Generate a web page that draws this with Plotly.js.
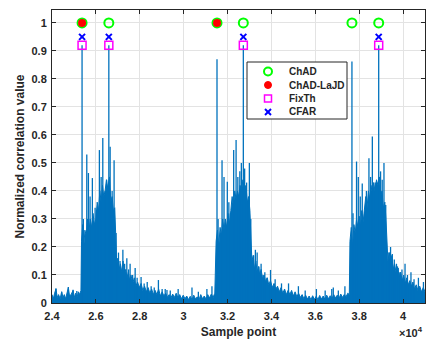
<!DOCTYPE html>
<html>
<head>
<meta charset="utf-8">
<script src="https://cdn.plot.ly/plotly-3.0.1.min.js"></script>
<style>html,body{margin:0;padding:0;background:#fff;}#chart{width:426px;height:342px;}</style>
</head>
<body>
<div id="chart"></div>
<script>
// ---- data ----
// Dense body of the correlation curve (sample index, value)
var bodyX = [24000,24060,24120,24180,24240,24300,24370,24440,24500,24560,24620,24680,24745,24800,24870,24960,25020,25080,25140,25200,25260,25320,
25345,25400,25450,25500,25560,25620,25680,25740,25800,25870,25930,26000,26060,26120,26180,26240,26300,26360,26420,26480,26540,26620,26680,26740,26800,26860,26900,26950,27000,27060,27120,27180,27240,27300,27360,27420,27480,27540,27600,27680,27750,27820,27900,27980,28060,28140,28220,28300,28380,28460,28540,28620,28700,28780,28860,28940,29020,29100,29180,29260,
29340,29420,29500,29580,29660,29740,29820,29900,29980,30060,30140,30220,30300,30380,30460,30540,30620,30700,30780,30860,30940,31020,31100,31180,31260,31340,31420,
31480,31540,31600,31660,31720,31780,31840,31900,31960,32020,32080,32150,32210,32270,32330,32390,32450,32510,32570,32640,32700,32770,32840,32900,32960,33020,33060,33110,33170,33230,33290,33350,33410,33470,33530,33600,33670,33740,33810,33880,33960,34040,34120,34200,34280,34360,34440,34520,34600,34680,34760,34840,34920,35000,35080,35160,
35240,35320,35400,35480,35560,35640,35720,35800,35880,35960,36040,36120,36200,36280,36360,36440,36520,36600,36680,36760,36840,36920,37000,37080,37160,37240,37320,37400,37480,37550,
37580,37640,37700,37760,37820,37880,37940,38000,38060,38120,38180,38240,38300,38360,38420,38480,38540,38600,38660,38720,38790,38860,38920,38980,39040,39100,39170,39220,39260,39310,39370,39430,39490,39550,39610,39680,39750,39820,39890,39960,40030,40100,40170,40240,40310,40380,40450,40520,40600,40680,40760,40840,40920,41000];
var bodyY = [0.03,0.015,0.035,0.05,0.02,0.03,0.015,0.04,0.02,0.03,0.015,0.035,0.055,0.025,0.03,0.045,0.02,0.035,0.02,0.04,0.03,0.045,
0.22,0.28,0.2,0.26,0.24,0.3,0.25,0.3,0.27,0.32,0.28,0.3,0.36,0.33,0.4,0.36,0.42,0.38,0.4,0.44,0.41,0.45,0.36,0.38,0.33,0.34,0.2,0.14,0.16,0.12,0.14,0.11,0.15,0.1,0.12,0.09,0.11,0.08,0.1,0.07,0.09,0.06,0.075,0.055,0.07,0.045,0.06,0.04,0.055,0.035,0.05,0.03,0.045,0.03,0.05,0.025,0.04,0.025,0.035,0.02,
0.03,0.018,0.032,0.02,0.035,0.018,0.03,0.015,0.028,0.015,0.025,0.012,0.024,0.012,0.028,0.014,0.022,0.012,0.03,0.015,0.025,0.014,0.03,0.018,0.032,0.02,0.035,
0.22,0.26,0.2,0.27,0.24,0.3,0.26,0.3,0.27,0.32,0.28,0.33,0.38,0.34,0.4,0.37,0.4,0.38,0.42,0.4,0.44,0.4,0.42,0.36,0.38,0.33,0.22,0.15,0.17,0.12,0.15,0.11,0.13,0.1,0.12,0.085,0.1,0.075,0.09,0.065,0.08,0.055,0.07,0.05,0.06,0.04,0.055,0.035,0.05,0.03,0.045,0.03,0.045,0.025,0.04,0.022,
0.035,0.02,0.03,0.015,0.028,0.014,0.025,0.012,0.026,0.013,0.024,0.012,0.027,0.014,0.025,0.013,0.028,0.015,0.026,0.016,0.03,0.018,0.028,0.016,0.032,0.02,0.03,0.022,0.035,0.03,
0.22,0.27,0.2,0.28,0.25,0.3,0.27,0.31,0.27,0.33,0.29,0.34,0.38,0.34,0.4,0.37,0.42,0.39,0.43,0.4,0.44,0.42,0.45,0.38,0.4,0.34,0.36,0.3,0.2,0.15,0.18,0.14,0.17,0.12,0.14,0.11,0.13,0.09,0.11,0.08,0.1,0.07,0.09,0.065,0.08,0.06,0.075,0.05,0.065,0.045,0.06,0.04,0.055,0.04];

// Individual spikes above the body (sample index, peak value)
var spikeX = [24180,24440,24745,24960,25130,
25370,25430,25585,25660,25735,25840,25965,26030,26160,26240,26315,26420,26490,26590,26650,26740,26830,26920,27030,27100,27230,27310,27410,27490,27560,27675,27790,27880,28060,28200,28340,28520,28660,28850,29020,29160,29240,29390,29750,30380,30670,31060,31290,
31520,31570,31750,31840,31990,32060,32130,32280,32390,32470,32560,32630,32720,32780,32870,32995,33060,33190,33270,33350,33430,33530,33620,33700,33800,33960,34170,34460,34780,35230,35540,36050,36450,36750,36820,37050,37350,
37670,37720,37880,37960,38050,38140,38260,38330,38445,38520,38600,38735,38890,38975,39050,39130,39210,39355,39430,39510,39600,39700,39780,39850,39950,40090,40200,40360,40500,40700,40930];
var spikeY = [0.053,0.04,0.057,0.047,0.043,
0.92,0.30,0.53,0.464,0.38,0.446,0.34,0.33,0.546,0.45,0.589,0.40,0.44,0.92,0.558,0.40,0.51,0.25,0.18,0.15,0.19,0.14,0.16,0.12,0.14,0.10,0.125,0.09,0.093,0.07,0.075,0.06,0.055,0.082,0.05,0.05,0.046,0.045,0.05,0.055,0.04,0.05,0.06,
0.87,0.30,0.51,0.45,0.433,0.36,0.32,0.546,0.582,0.45,0.47,0.50,0.92,0.48,0.43,0.50,0.30,0.17,0.19,0.18,0.13,0.14,0.10,0.11,0.09,0.118,0.085,0.07,0.07,0.06,0.045,0.05,0.045,0.05,0.055,0.045,0.06,
0.862,0.32,0.505,0.45,0.38,0.427,0.326,0.40,0.517,0.45,0.594,0.43,0.92,0.47,0.44,0.50,0.35,0.18,0.20,0.175,0.155,0.14,0.125,0.11,0.12,0.14,0.10,0.11,0.085,0.09,0.075];

// Detection markers
var chadX = [25370,26590,31520,32720,37670,38890];
var chadY = [1,1,1,1,1,1];
var lajdX = [25370,31520];
var lajdY = [1,1];
var fixthX = [25370,26590,32720,38890];
var fixthY = [0.92,0.92,0.92,0.92];
var cfarX = [25370,26590,32720,38890];
var cfarY = [0.95,0.95,0.95,0.95];

var seriesNames = ['ChAD', 'ChAD-LaJD', 'FixTh', 'CFAR'];
var xTickVals = [24000,26000,28000,30000,32000,34000,36000,38000,40000];
var xTickText = ['2.4','2.6','2.8','3','3.2','3.4','3.6','3.8','4'];
var yTickVals = [0,0.1,0.2,0.3,0.4,0.5,0.6,0.7,0.8,0.9,1];
var yTickText = ['0','0.1','0.2','0.3','0.4','0.5','0.6','0.7','0.8','0.9','1'];

// ---- build traces ----
var blue = '#0072BD';
var ink = '#262626';
var sx = [], sy = [];
for (var i = 0; i < spikeX.length; i++) {
  sx.push(spikeX[i], spikeX[i], null);
  sy.push(0, spikeY[i], null);
}
var fam = 'Liberation Sans, Arial, sans-serif';
var fnt = {family: fam, size: 11, color: ink, weight: 'bold'};
var legFnt = {family: fam, size: 10, color: ink, weight: 'bold'};

var traces = [
  {x: bodyX, y: bodyY, type: 'scatter', mode: 'lines', fill: 'tozeroy', fillcolor: blue,
   line: {color: blue, width: 1}, showlegend: false, hoverinfo: 'skip'},
  {x: sx, y: sy, type: 'scatter', mode: 'lines', line: {color: blue, width: 1.3},
   showlegend: false, hoverinfo: 'skip'},
  {x: chadX, y: chadY, type: 'scatter', mode: 'markers', name: seriesNames[0], showlegend: false,
   marker: {symbol: 'circle-open', size: 9, color: '#00FF00', line: {width: 2, color: '#00FF00'}}},
  {x: lajdX, y: lajdY, type: 'scatter', mode: 'markers', name: seriesNames[1], showlegend: false,
   marker: {symbol: 'circle', size: 8, color: '#FF0000'}},
  {x: fixthX, y: fixthY, type: 'scatter', mode: 'markers', name: seriesNames[2], showlegend: false,
   marker: {symbol: 'square-open', size: 8, color: '#FF00FF', line: {width: 1.5, color: '#FF00FF'}}},
  {x: cfarX, y: cfarY, type: 'scatter', mode: 'markers', name: seriesNames[3], showlegend: false,
   marker: {symbol: 'x-thin-open', size: 6, color: '#0000FF', line: {width: 2, color: '#0000FF'}}}
];

// ---- compact legend box (MATLAB style) drawn with shapes + annotations ----
var plotL = 52, plotT = 10, plotW = 373, plotH = 293;
function px2x(p) { return (p - plotL) / plotW; }
function py2y(p) { return (plotT + plotH - p) / plotH; }
var legL = 247, legR = 347, legT = 62, legB = 119;
var rowY = [71.5, 85, 98.5, 112];
var mkX = px2x(268), txtX = px2x(287);
var shapes = [
  {type: 'rect', xref: 'paper', yref: 'paper', x0: px2x(legL), x1: px2x(legR), y0: py2y(legB), y1: py2y(legT),
   fillcolor: '#fff', line: {color: ink, width: 1}, layer: 'above'}
];
function pxShape(type, row, x0, x1, y0, y1, style) {
  var s = {type: type, xref: 'paper', yref: 'paper', xsizemode: 'pixel', ysizemode: 'pixel',
    xanchor: mkX, yanchor: py2y(rowY[row]), x0: x0, x1: x1, y0: y0, y1: y1, layer: 'above'};
  for (var k in style) s[k] = style[k];
  return s;
}
shapes.push(pxShape('circle', 0, -4, 4, -4, 4, {line: {color: '#00FF00', width: 2}}));
shapes.push(pxShape('circle', 1, -3.5, 3.5, -3.5, 3.5, {fillcolor: '#FF0000', line: {color: '#FF0000', width: 1}}));
shapes.push(pxShape('rect', 2, -3.5, 3.5, -3.5, 3.5, {line: {color: '#FF00FF', width: 1.5}}));
shapes.push(pxShape('line', 3, -3, 3, -3, 3, {line: {color: '#0000FF', width: 2}}));
shapes.push(pxShape('line', 3, -3, 3, 3, -3, {line: {color: '#0000FF', width: 2}}));

var annotations = [
  {xref: 'paper', yref: 'paper', x: 1, y: 0, xanchor: 'right', yanchor: 'top', yshift: -20, xshift: 0,
   text: '×10<sup>4</sup>', showarrow: false, font: {family: fam, size: 11, color: ink}}
];
for (var r = 0; r < seriesNames.length; r++) {
  annotations.push({xref: 'paper', yref: 'paper', x: txtX, y: py2y(rowY[r]), xanchor: 'left', yanchor: 'middle',
    text: seriesNames[r], showarrow: false, font: legFnt});
}

var layout = {
  width: 426, height: 342,
  margin: {l: 52, r: 1, t: 10, b: 39},
  paper_bgcolor: '#fff', plot_bgcolor: '#fff',
  font: fnt,
  showlegend: false,
  xaxis: {range: [24000, 41000], tickvals: xTickVals, ticktext: xTickText, tickfont: fnt,
    showgrid: true, gridcolor: '#e3e3e3', gridwidth: 1, zeroline: false,
    showline: true, linecolor: ink, linewidth: 1, mirror: 'ticks',
    ticks: 'inside', ticklen: 4, tickcolor: ink, ticklabelstandoff: 3,
    title: {text: 'Sample point', font: {family: fam, size: 12, color: ink, weight: 'bold'}, standoff: 6}},
  yaxis: {range: [0, 1.046], tickvals: yTickVals, ticktext: yTickText, tickfont: fnt,
    showgrid: true, gridcolor: '#e3e3e3', gridwidth: 1, zeroline: false,
    showline: true, linecolor: ink, linewidth: 1, mirror: 'ticks',
    ticks: 'inside', ticklen: 4, tickcolor: ink, ticklabelstandoff: 2,
    title: {text: 'Normalized correlation value', font: {family: fam, size: 12, color: ink, weight: 'bold'}, standoff: 4}},
  shapes: shapes,
  annotations: annotations
};

Plotly.newPlot('chart', traces, layout, {displayModeBar: false, staticPlot: true});
</script>
</body>
</html>
